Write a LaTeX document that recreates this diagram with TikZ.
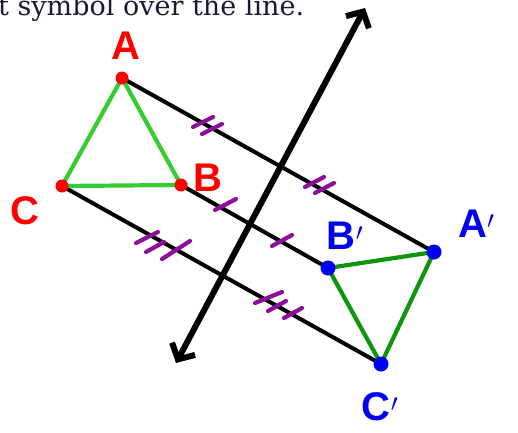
\documentclass[tikz,border=0pt]{standalone}
\usepackage{fontspec}
\setmainfont{DejaVu Serif}
\newfontfamily\handfont{Liberation Sans}
\usetikzlibrary{arrows.meta}
\definecolor{navy}{HTML}{1A1A33}
\definecolor{lgreen}{HTML}{33CC33}
\definecolor{dgreen}{HTML}{0E950E}
\definecolor{tickc}{HTML}{8E0E9A}
\definecolor{myred}{HTML}{FF0000}
\definecolor{myblue}{HTML}{0000F0}
\tikzset{
  paral/.style={line width=4pt, black},
  mirror/.style={line width=6pt, black, {Straight Barb[length=12pt,width=26pt,line width=6pt]}-{Straight Barb[length=12pt,width=26pt,line width=6pt]}},
  tickmark/.style={line width=4.2pt, tickc, line cap=round},
  lbl/.style={font=\handfont\bfseries\fontsize{40}{40}\selectfont, inner sep=0pt},
  redlbl/.style={lbl, myred},
  bluelbl/.style={lbl, myblue},
  rdot/.style={circle, fill=myred, inner sep=0pt, minimum size=13pt},
  bdot/.style={circle, fill=myblue, inner sep=0pt, minimum size=15pt},
}
\begin{document}
\begin{tikzpicture}[x=1pt,y=-1pt]
\useasboundingbox (0,0) rectangle (518,432);
\node[anchor=base west, inner sep=0pt, text=navy, font=\fontsize{27}{27}\selectfont] (title) at (-2,15) {t symbol over the line.};
% points
\coordinate (A) at (122,78);
\coordinate (B) at (181,185);
\coordinate (C) at (62,186);
\coordinate (A1) at (434,252);
\coordinate (B1) at (328,268);
\coordinate (C1) at (381,364);
% parallel lines
\draw[paral] (A) -- (A1);
\draw[paral] (B) -- (B1);
\draw[paral] (C) -- (C1);
% mirror line
\coordinate (M1) at (176,363);
\coordinate (M2) at (365,8);
\draw[mirror] (M1) -- (M2);
% triangles
\draw[lgreen, line width=4.2pt, line join=round] (A) -- (B) -- (C) -- cycle;
\draw[dgreen, line width=4.2pt, line join=round] (A1) -- (B1) -- (C1) -- cycle;
% dots
\node[rdot] (dA) at (A) {};
\node[rdot] (dB) at (B) {};
\node[rdot] (dC) at (C) {};
\node[bdot] (dA1) at (A1) {};
\node[bdot] (dB1) at (B1) {};
\node[bdot] (dC1) at (C1) {};
% tick marks
\draw[tickmark] (193,127) -- (213,117);
\draw[tickmark] (202,134) -- (222,124);
\draw[tickmark] (305,187) -- (324,177);
\draw[tickmark] (315,193) -- (334,183);
\draw[tickmark] (215,210) -- (236,199);
\draw[tickmark] (272,246) -- (292,235);
\draw[tickmark] (136,243) -- (158,232);
\draw[tickmark] (146,252) -- (164,242);
\draw[tickmark] (162,259) -- (190,241);
\draw[tickmark] (255,303) -- (282,292);
\draw[tickmark] (268,311) -- (286,301);
\draw[tickmark] (284,318) -- (302,308);
% labels
\node[redlbl] (lA) at (126,46) {A};
\node[redlbl] (lB) at (208,178) {B};
\node[redlbl] (lC) at (25,211) {C};
\node[bluelbl, anchor=west] (lA1) at (458,224) {A$'$};
\node[bluelbl] (lB1) at (345,236) {B$'$};
\node[bluelbl] (lC1) at (380,407) {C$'$};
\end{tikzpicture}
\end{document}
